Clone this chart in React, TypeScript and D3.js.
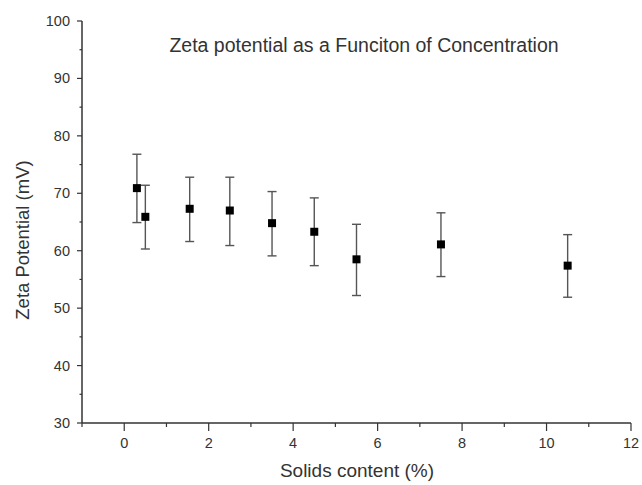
import React from "react";
import * as d3 from "d3";

const solids = [0.3, 0.5, 1.55, 2.5, 3.5, 4.5, 5.5, 7.5, 10.5];
const zeta = [70.9, 65.9, 67.3, 67.0, 64.8, 63.3, 58.5, 61.1, 57.4];
const errUpper = [76.8, 71.4, 72.8, 72.8, 70.3, 69.2, 64.6, 66.6, 62.8];
const errLower = [64.9, 60.3, 61.6, 60.9, 59.1, 57.4, 52.2, 55.5, 51.9];
const xTicks = [0, 2, 4, 6, 8, 10, 12];
const xMinor = [-1, 1, 3, 5, 7, 9, 11];
const yTicks = [30, 40, 50, 60, 70, 80, 90, 100];
const yMinor = [35, 45, 55, 65, 75, 85, 95];

const W = 642;
const H = 485;
const left = 82;
const right = 631;
const top = 21;
const bottom = 423;
const font = "Arial, 'Liberation Sans', sans-serif";
const ink = "#333";

export default function App() {
  const x = d3.scaleLinear().domain([-1, 12]).range([left, right]);
  const y = d3.scaleLinear().domain([30, 100]).range([bottom, top]);
  return (
    <svg width={W} height={H} style={{ position: "absolute", left: 0, top: 0, background: "#fff" }}>
      <rect width={W} height={H} fill="#fff" />
      <text x={364} y={52} textAnchor="middle" fontFamily={font} fontSize={19.5} fill={ink}>
        Zeta potential as a Funciton of Concentration
      </text>
      {/* y axis */}
      <line x1={left} x2={left} y1={top} y2={bottom} stroke={ink} strokeWidth={1.5} />
      {yTicks.map((t) => (
        <g key={"yt" + t}>
          <line x1={left - 5} x2={left} y1={y(t)} y2={y(t)} stroke={ink} strokeWidth={1.2} />
          <text x={left - 12} y={y(t) + 5} textAnchor="end" fontFamily={font} fontSize={14.5} fill={ink}>
            {t}
          </text>
        </g>
      ))}
      {yMinor.map((t) => (
        <line key={"ym" + t} x1={left - 2.5} x2={left} y1={y(t)} y2={y(t)} stroke={ink} strokeWidth={1.2} />
      ))}
      {/* x axis */}
      <line x1={left} x2={right} y1={bottom} y2={bottom} stroke={ink} strokeWidth={1.5} />
      {xTicks.map((t) => (
        <g key={"xt" + t}>
          <line x1={x(t)} x2={x(t)} y1={bottom} y2={bottom + 8} stroke={ink} strokeWidth={1.2} />
          <text x={x(t)} y={bottom + 25} textAnchor="middle" fontFamily={font} fontSize={14.5} fill={ink}>
            {t}
          </text>
        </g>
      ))}
      {xMinor.map((t) => (
        <line key={"xm" + t} x1={x(t)} x2={x(t)} y1={bottom} y2={bottom + 4} stroke={ink} strokeWidth={1.2} />
      ))}
      <text x={357} y={477} textAnchor="middle" fontFamily={font} fontSize={19} fill={ink}>
        Solids content (%)
      </text>
      <text
        transform={`translate(29, 240) rotate(-90)`}
        textAnchor="middle"
        fontFamily={font}
        fontSize={18.5}
        fill={ink}
      >
        Zeta Potential (mV)
      </text>
      {/* error bars */}
      {solids.map((s, i) => (
        <g key={"e" + i} stroke="#555" strokeWidth={1.4}>
          <line x1={x(s)} x2={x(s)} y1={y(errUpper[i])} y2={y(errLower[i])} />
          <line x1={x(s) - 4.5} x2={x(s) + 4.5} y1={y(errUpper[i])} y2={y(errUpper[i])} />
          <line x1={x(s) - 4.5} x2={x(s) + 4.5} y1={y(errLower[i])} y2={y(errLower[i])} />
        </g>
      ))}
      {solids.map((s, i) => (
        <rect key={"p" + i} x={x(s) - 4} y={y(zeta[i]) - 4} width={8} height={8} fill="#000" />
      ))}
    </svg>
  );
}
